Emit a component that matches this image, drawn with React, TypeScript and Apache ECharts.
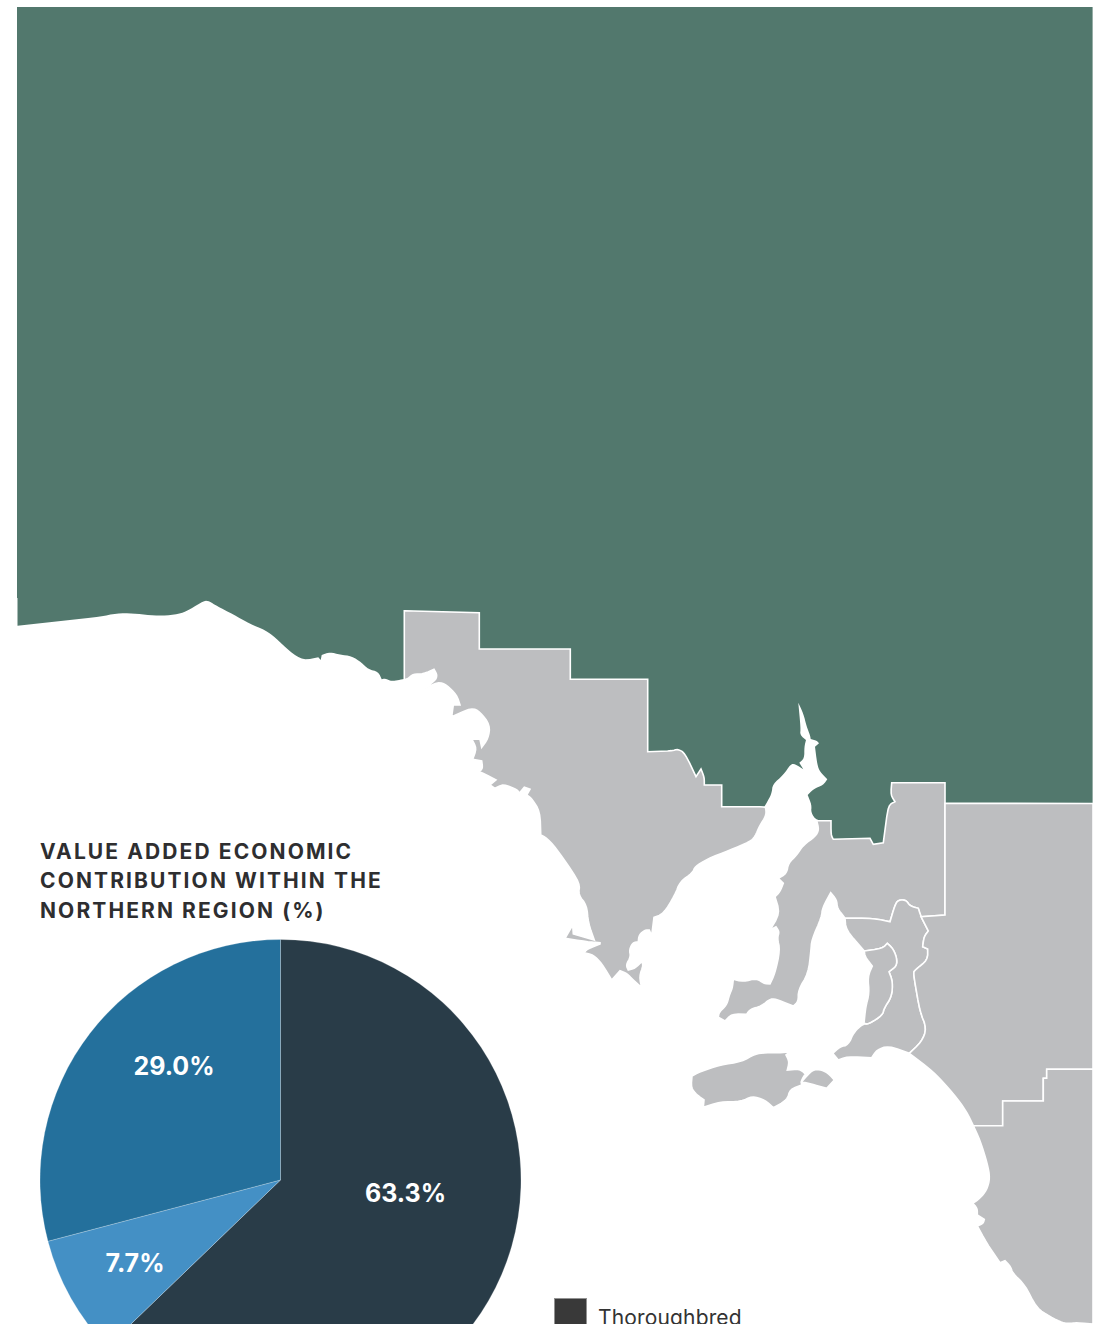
import React, { useEffect, useRef } from "react";
import * as echarts from "echarts";

type Pt = [number, number];

const pieCategories = ["Thoroughbred", "Harness", "Greyhound"];
// Slice shares as drawn in the picture, and the percentages printed on them.
const pieShares = [62.8, 8.1, 29.1];
const pieLabels = ["63.3%", "7.7%", "29.0%"];
const legendNames = ["Thoroughbred"];
const titleLines = ["VALUE ADDED ECONOMIC", "CONTRIBUTION WITHIN THE", "NORTHERN REGION (%)"];
const pieLabelCentres: Pt[] = [[405.5, 1192.5], [135, 1263], [174, 1066]];

const northern: Pt[] = [
  [17,7],[1092.6,7],[1092.6,803.5],[945,803.3],[945,782.7],[891.7,782.7],[890.7,795],[895,801.7],[888.3,805],[883.3,842.7],[873.3,844.3],[870,838.3],[833.3,839.3],[831,835],[831,820.7],[816.7,820.7],[811,812.7],[811.7,805],[807.7,795],[813.3,789],[823.3,785],[827.3,779.3],[820,771.7],[817.3,765],[815,746.7],[819,743.3],[816.7,740.7],[810.7,739],[810,735],[806.7,726.7],[803.3,713.3],[798.3,702.7],[800.7,728.3],[800,735],[806,740],[804.3,746.7],[804.3,758.3],[799.3,762.7],[803.3,769.3],[795,764],[790.7,764],[783.3,775],[772.7,784],[771.7,793],[768.3,800],[764.3,806.7],[721.7,806.7],[721.7,785],[704.3,785],[704.3,777.3],[701,769],[696,776.7],[685,753.3],[678,749],[671.7,751],[647.7,751.7],[647.7,679.3],[570.3,679.3],[570.3,649],[479.3,649],[479.3,612.7],[404.3,610.7],[404.3,679],
  [398.3,680],[391.7,681.3],[385,678.3],[381.7,679.3],[378.3,671.7],[368.3,669.3],[361.7,662.7],[351.7,656],[340,654.7],[330,652],[321.7,655],[320.7,660],[318.3,657.3],[303.3,660.3],[290,651.7],[275,637.3],[265,630],[250,624],[233,614.3],[216.7,606],[209.3,601],[204,600.7],[190,609.3],[181.7,613.3],[166.7,615.7],[150,615.3],[133,613.3],[116.7,613.3],[100,616.7],[17.5,625.7],[17.5,598],[17,598],
];
const eyre: Pt[] = [
  [404.3,610.7],[479.3,612.7],[479.3,649],[570.3,649],[570.3,679.3],[647.7,679.3],[647.7,751.7],[671.7,751],[678,749],[685,753.3],[696,776.7],[701,769],[704.3,777.3],[704.3,785],[721.7,785],[721.7,806.7],[764.3,806.7],[766,808.3],[766,816],[760,825],[755,836.7],[750,841.7],[730,850],[706.7,859.3],[695,866.7],[692.7,872.7],[680,881.7],[675,895],[663.3,914],[654,917.3],[651.7,935.7],[649.3,930],[645,930],[639,935],[638.3,941.7],[632.7,942.7],[629.3,950],[630.7,956.7],[626,965],[628.3,970],[635,968.3],[641.7,961.7],[643.3,965],[639.3,976.7],[641.7,987.7],[633.3,980],[626.7,973.3],[620,970.7],[611.7,980],[601.7,963.3],[593.3,955],[584.3,952.7],[586.7,949.3],[600,944],[600,942.7],[586.7,941.7],[565,938.3],[572.7,925],[573.3,934],[594.3,940],[588.3,923.3],[586.7,905],[578.3,895],[580,883.3],[563.3,858.3],[550,840.7],[540,834],[531,831.7],[540.7,833.3],[540,811.7],[531.7,798.3],[526.7,795],[530,789.3],[524.3,787.3],[519.3,793.3],[517.7,790],[503.3,784],[495,788.3],[490,785],[496,780],[486.7,775],[479.3,771.7],[482.7,768.3],[481.7,761],[472.7,759.3],[476.7,748.3],[471.7,739],[480,739.3],[481.7,747.3],[488.3,738.3],[490,725],[480,711.7],[471.7,707.7],[451.7,716.7],[453.3,705],[460,705],[456.7,695],[446.7,685],[438.3,681.7],[420,690.7],[435,681],[437.3,675],[434,669.3],[423.3,674],[413.3,674],[408.3,678.3],[404.3,680],
];
const yorke: Pt[] = [
  [816.7,820.7],[831,820.7],[831,835],[833.3,839.3],[870,838.3],[873.3,844.3],[883.3,842.7],[888.3,805],[895,801.7],[890.7,795],[891.7,782.7],[945,782.7],[945,915],[921,916.7],[918.3,908.3],[910,906],[906,900],[898.3,900],[895,905],[890,921.7],[873.3,918.3],[845,918.3],[844,916.7],[837.3,908.3],[836.7,900],[830.7,892.7],[822.3,908.3],[821.7,916.7],[811.7,940],[811,950],[808.3,973.3],[798.3,990],[798.3,1001.7],[793.3,1006],[778.3,1000],[770.7,998.3],[761.7,1006],[750,1009.3],[746.7,1014.3],[731.7,1014],[725,1021],[718.3,1017.3],[719,1012.3],[726.7,1005],[729.3,995],[732.3,988.3],[733.3,979.3],[743.3,981.7],[756.7,978.3],[763.3,983.3],[770,984],[775,973.3],[780,950],[777.3,938.3],[779.3,931.7],[776,926.7],[770,930],[780,913.3],[775,896.7],[780,891.7],[783.3,883.3],[778.3,878.3],[786.7,873.3],[788.3,863.3],[796.7,855],[803.3,845],[815,836.7],[819,830],
];
const southEast: Pt[] = [
  [845,918.3],[873.3,918.3],[890,921.7],[895,905],[898.3,900],[906,900],[910,906],[918.3,908.3],[921,916.7],[928.3,931],[924,936.7],[922.7,946.7],[927.7,949],[927.7,960],[915,970],[913.3,973.3],[920,1011.7],[926.7,1028.3],[921.7,1041.7],[909.3,1053.3],[888.3,1045.7],[876.7,1050],[871.7,1057.7],[846.7,1056.7],[838.3,1060],[832.7,1053.3],[840,1046.7],[848.3,1045],[854,1031.7],[864,1023.3],[868.3,1024.3],[882.7,1015],[884,1008.3],[891.7,996.7],[892.7,981.7],[889,971.7],[896.7,966],[896.7,957.3],[892.7,948.3],[887.3,943.3],[882.7,948.3],[864.3,951],[846,930],
];
const adelaide: Pt[] = [
  [864.3,951],[882.7,948.3],[887.3,943.3],[892.7,948.3],[896.7,957.3],[896.7,966],[889,971.7],[892.7,981.7],[891.7,996.7],[884,1008.3],[882.7,1015],[868.3,1024.3],[864,1023.3],[865.7,1006.7],[869.3,993.3],[867.7,976.7],[872.3,966],[865,956.7],
];
const murray: Pt[] = [
  [945,803.3],[1093,803.5],[1093,1069.3],[1046.7,1069.3],[1046.7,1078.3],[1043.3,1078.3],[1043.3,1101],[1002.7,1101],[1002.7,1125.7],[973.3,1125.7],[966.7,1111.7],[953.3,1093.3],[933.3,1071.7],[909.3,1053.3],[921.7,1041.7],[926.7,1028.3],[920,1011.7],[913.3,973.3],[915,970],[927.7,960],[927.7,949],[922.7,946.7],[924,936.7],[928.3,931],[921,916.7],[945,915],
];
const limestone: Pt[] = [
  [973.3,1125.7],[1002.7,1125.7],[1002.7,1101],[1043.3,1101],[1043.3,1078.3],[1046.7,1078.3],[1046.7,1069.3],[1093,1069.3],[1093,1324],[1076.7,1322.7],[1070,1323.3],[1063.3,1323.3],[1050,1316.7],[1036.7,1308.3],[1025,1285],[1012.7,1273.3],[1010.7,1266.7],[1005,1260.7],[1000,1262.7],[986.7,1243.3],[977.3,1226],[983.3,1223.3],[984.3,1219.3],[977.3,1215],[977.3,1208.3],[972.7,1203.3],[980,1198.3],[986.7,1190],[990,1178.3],[987.3,1163.3],[980,1140],
];
const kangaroo: Pt[] = [
  [692,1076],[700,1071.7],[720,1065],[741.7,1061.7],[755,1054],[765,1052.7],[783.3,1052.7],[790,1051.7],[786,1055],[789.3,1061.7],[787.3,1070],[800,1069],[805.3,1074],[801,1081],[801.7,1085],[790,1089.3],[787.3,1100],[773.3,1107.7],[765,1100],[751.7,1096],[741.7,1101.7],[720,1101.7],[703.3,1107.3],[704,1100],[697,1095],[691,1088],
];
const islet: Pt[] = [
  [801.7,1081.7],[806,1076.7],[813.3,1069.3],[821.7,1070],[828.3,1073.3],[834.3,1080],[826.7,1088.3],[815,1085],
];

const regionRings: [string, Pt[], string][] = [
  ["Northern", northern, "#52786D"],
  ["Eyre", eyre, "#BDBEC0"],
  ["Yorke", yorke, "#BDBEC0"],
  ["South East", southEast, "#BDBEC0"],
  ["Adelaide", adelaide, "#BDBEC0"],
  ["Murray", murray, "#BDBEC0"],
  ["Limestone", limestone, "#BDBEC0"],
  ["Kangaroo", kangaroo, "#BDBEC0"],
  ["Islet", islet, "#BDBEC0"],
];

// Rounds the gentle bends of a coast and leaves square border corners and spikes sharp.
function soften(ring: Pt[], passes = 2): Pt[] {
  let cur = ring;
  for (let k = 0; k < passes; k++) {
    const out: Pt[] = [];
    cur.forEach((p, i) => {
      const a = cur[(i - 1 + cur.length) % cur.length];
      const b = cur[(i + 1) % cur.length];
      const ux = p[0] - a[0], uy = p[1] - a[1], vx = b[0] - p[0], vy = b[1] - p[1];
      const lu = Math.hypot(ux, uy) || 1, lv = Math.hypot(vx, vy) || 1;
      const cos = (ux * vx + uy * vy) / (lu * lv);
      if (cos > 0.55) {
        const cu = Math.min(lu * 0.25, 6), cv = Math.min(lv * 0.25, 6);
        out.push([p[0] - (ux / lu) * cu, p[1] - (uy / lu) * cu]);
        out.push([p[0] + (vx / lv) * cv, p[1] + (vy / lv) * cv]);
      } else {
        out.push(p);
      }
    });
    cur = out;
  }
  return cur;
}

const geoJson = {
  type: "FeatureCollection",
  features: regionRings.map(([name, ring]) => {
    const s = soften(ring);
    return {
      type: "Feature",
      properties: { name },
      geometry: { type: "Polygon", coordinates: [[...s, s[0]]] },
    };
  }),
};

export default function App() {
  const ref = useRef<HTMLDivElement>(null);
  useEffect(() => {
    document.body.style.margin = "0";
    echarts.registerMap("sa", geoJson as any);
    const chart = echarts.init(ref.current!, undefined, { renderer: "svg" });
    chart.setOption({
      animation: false,
      backgroundColor: "#fff",
      title: {
        text: titleLines.join("\n"),
        left: 40,
        top: 836.5,
        padding: 0,
        textStyle: { fontFamily: "Inter", fontWeight: 700, fontSize: 21, lineHeight: 29.5, color: "#2E2E30" },
      },
      legend: {
        data: legendNames.map((name) => ({ name, itemStyle: { color: "#393939" } })),
        left: 553,
        top: 1297,
        padding: 0,
        itemWidth: 33,
        itemHeight: 33,
        icon: "rect",
        selectedMode: false,
        textStyle: { fontFamily: "Inter", fontSize: 21, color: "#333", padding: [0, 0, 0, 6] },
      },
      geo: {
        map: "sa",
        projection: { project: (p: number[]) => p, unproject: (p: number[]) => p },
        left: 17,
        top: 7,
        width: 1076,
        height: 1317,
        silent: true,
        roam: false,
        label: { show: false },
        itemStyle: { borderColor: "#fff", borderWidth: 1.6 },
        regions: regionRings.map(([name, , color]) => ({
          name,
          itemStyle: { areaColor: color, borderWidth: name === "Northern" ? 0 : 1.6 },
        })),
      },
      series: [
        {
          type: "pie",
          center: [280.5, 1180],
          radius: 240.5,
          startAngle: 90,
          clockwise: true,
          silent: true,
          labelLine: { show: false },
          label: {
            show: true,
            position: "inside",
            formatter: (p: any) => pieLabels[p.dataIndex],
            color: "#fff",
            fontFamily: "Inter",
            fontWeight: 700,
            fontSize: 25,
          },
          labelLayout: (p: any) => ({
            x: pieLabelCentres[p.dataIndex][0],
            y: pieLabelCentres[p.dataIndex][1],
            align: "center",
            verticalAlign: "middle",
          }),
          data: pieCategories.map((name, i) => ({
            name,
            value: pieShares[i],
            itemStyle: {
              color: ["#293C48", "#4490C5", "#24709C"][i],
              borderColor: "rgba(255,255,255,0.45)",
              borderWidth: 0.5,
            },
          })),
        },
      ],
    });
    ref.current!.querySelectorAll("text").forEach((t) => {
      const s = t.textContent || "";
      if (titleLines.some((l) => s.includes(l))) t.style.letterSpacing = "2.1px";
      if (legendNames.includes(s)) {
        t.setAttribute("dy", "3");
        t.style.letterSpacing = "0.15px";
      }
    });
    return () => chart.dispose();
  }, []);
  return (
    <div style={{ width: 1099, height: 1324, overflow: "hidden" }}>
      <div ref={ref} style={{ width: 1099, height: 1324 }} />
    </div>
  );
}
